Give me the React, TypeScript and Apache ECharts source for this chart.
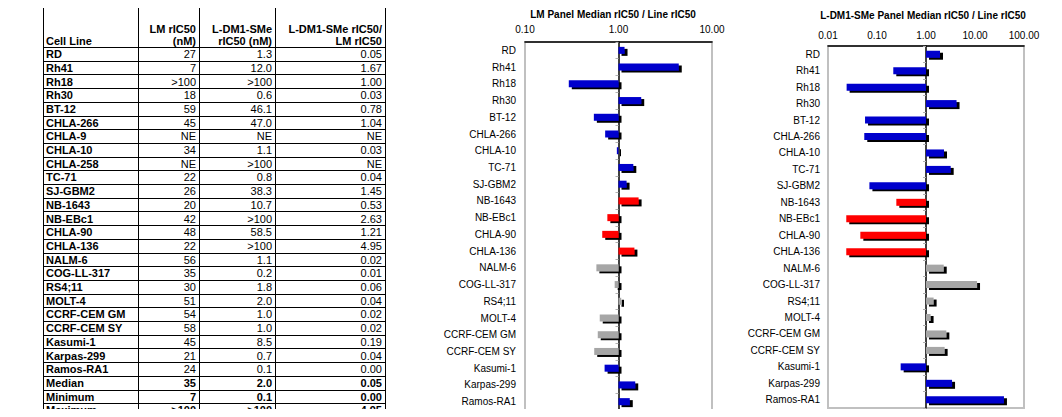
import React, { useEffect, useRef } from "react";
import * as echarts from "echarts";

// ---------- table data ----------
const tableLines = [
  "RD", "Rh41", "Rh18", "Rh30", "BT-12", "CHLA-266", "CHLA-9", "CHLA-10", "CHLA-258",
  "TC-71", "SJ-GBM2", "NB-1643", "NB-EBc1", "CHLA-90", "CHLA-136", "NALM-6", "COG-LL-317",
  "RS4;11", "MOLT-4", "CCRF-CEM GM", "CCRF-CEM SY", "Kasumi-1", "Karpas-299", "Ramos-RA1",
];
const tableLM = [
  "27", "7", ">100", "18", "59", "45", "NE", "34", "NE", "22", "26", "20", "42", "48", "22",
  "56", "35", "30", "51", "54", "58", "45", "21", "24",
];
const tableLDM1 = [
  "1.3", "12.0", ">100", "0.6", "46.1", "47.0", "NE", "1.1", ">100", "0.8", "38.3", "10.7",
  ">100", "58.5", ">100", "1.1", "0.2", "1.8", "2.0", "1.0", "1.0", "8.5", "0.7", "0.1",
];
const tableRatio = [
  "0.05", "1.67", "1.00", "0.03", "0.78", "1.04", "NE", "0.03", "NE", "0.04", "1.45", "0.53",
  "2.63", "1.21", "4.95", "0.02", "0.01", "0.06", "0.04", "0.02", "0.02", "0.19", "0.04", "0.00",
];
const summaryLabels = ["Median", "Minimum", "Maximum"];
const summaryLM = ["35", "7", ">100"];
const summaryLDM1 = ["2.0", "0.1", ">100"];
const summaryRatio = ["0.05", "0.00", "4.95"];

// ---------- chart data ----------
const chartLines = [
  "RD", "Rh41", "Rh18", "Rh30", "BT-12", "CHLA-266", "CHLA-10", "TC-71", "SJ-GBM2",
  "NB-1643", "NB-EBc1", "CHLA-90", "CHLA-136", "NALM-6", "COG-LL-317", "RS4;11", "MOLT-4",
  "CCRF-CEM GM", "CCRF-CEM SY", "Kasumi-1", "Karpas-299", "Ramos-RA1",
];
const chartGroups = [
  "solid", "solid", "solid", "solid", "solid", "solid", "solid", "solid", "solid",
  "nb", "nb", "nb", "nb", "all", "all", "all", "all", "all", "all", "solid", "solid", "solid",
];
const lmRatio = [
  1.16, 4.41, 0.294, 1.75, 0.545, 0.72, 0.96, 1.44, 1.22, 1.64, 0.76, 0.67, 1.48, 0.58, 0.91,
  1.07, 0.63, 0.6, 0.55, 0.71, 1.51, 1.32,
];
const ldm1Ratio = [
  1.93, 0.215, 0.024, 4.2, 0.057, 0.055, 2.33, 3.19, 0.07, 0.248, 0.0236, 0.0457, 0.0236, 2.3,
  11.0, 1.43, 1.24, 2.6, 2.4, 0.304, 3.4, 39,
];

const FONT = "'Liberation Sans', Arial, sans-serif";
const groupColor: Record<string, string> = {
  solid: "#0000CC",
  nb: "#FF0000",
  all: "#A6A6A6",
};

function buildTable(): any[] {
  const els: any[] = [];
  const colX = [43, 138, 199, 275, 385];
  const headerBottom = 47;
  const rowH = 13.7;
  const totalRows = tableLines.length + summaryLabels.length;
  colX.forEach((x) => {
    els.push({
      type: "line",
      shape: { x1: x + 0.5, y1: 4, x2: x + 0.5, y2: 420 },
      style: { stroke: "#000", lineWidth: 1 },
      silent: true,
    });
  });
  for (let i = 0; i <= totalRows; i++) {
    const y = Math.round(headerBottom + i * rowH) + 0.5;
    els.push({
      type: "line",
      shape: { x1: 43, y1: y, x2: 386, y2: y },
      style: { stroke: "#000", lineWidth: 1 },
      silent: true,
    });
  }
  const txt = (s: string, x: number, y: number, align: string, bold: boolean, size: number) => ({
    type: "text",
    x,
    y,
    silent: true,
    style: {
      text: s,
      fill: "#000",
      font: `${bold ? "bold " : ""}${size}px ${FONT}`,
      textAlign: align,
      textVerticalAlign: "middle",
    },
  });
  const HS = 11;
  const BS = 11;
  // header
  els.push(txt("Cell Line", 46, 40.5, "left", true, HS));
  els.push(txt("LM rIC50", 196, 29, "right", true, HS));
  els.push(txt("(nM)", 196, 40.5, "right", true, HS));
  els.push(txt("L-DM1-SMe", 272, 29, "right", true, HS));
  els.push(txt("rIC50 (nM)", 272, 40.5, "right", true, HS));
  els.push(txt("L-DM1-SMe rIC50/", 382, 29, "right", true, HS));
  els.push(txt("LM rIC50", 382, 40.5, "right", true, HS));
  const rows: [string, string, string, string, boolean][] = [];
  tableLines.forEach((l, i) => rows.push([l, tableLM[i], tableLDM1[i], tableRatio[i], false]));
  summaryLabels.forEach((l, i) =>
    rows.push([l, summaryLM[i], summaryLDM1[i], summaryRatio[i], true])
  );
  rows.forEach((r, i) => {
    const y = headerBottom + i * rowH + rowH / 2 + 0.3;
    els.push(txt(r[0], 46, y, "left", true, BS));
    els.push(txt(r[1], 196, y, "right", r[4], BS));
    els.push(txt(r[2], 272, y, "right", r[4], BS));
    els.push(txt(r[3], 382, y, "right", r[4], BS));
  });
  return els;
}

function barData(vals: number[]) {
  return vals.map((v, i) => ({
    value: Math.log10(v),
    itemStyle: { color: groupColor[chartGroups[i]] },
  }));
}

export default function App() {
  const ref = useRef<HTMLDivElement>(null);
  useEffect(() => {
    if (!ref.current) return;
    const chart = echarts.init(ref.current, null, { renderer: "svg" });
    const grids = [
      { left: 525, right: 350, top: 42, bottom: 7 },
      { left: 828, right: 38, top: 46, bottom: 9 },
    ];
    const xRanges = [
      [-1, 1],
      [-2, 2],
    ];
    const labelMargins = [8, 6];
    const catMargins = [9, 8];
    const xAxis: any[] = [];
    const yAxis: any[] = [];
    grids.forEach((g, k) => {
      xAxis.push({
        type: "value",
        gridIndex: k,
        position: "top",
        min: xRanges[k][0],
        max: xRanges[k][1],
        interval: 1,
        axisLine: { show: true, onZero: false, lineStyle: { color: "#000", width: 1.5 } },
        axisTick: { show: false },
        splitLine: { show: false },
        axisLabel: {
          margin: labelMargins[k],
          color: "#000",
          fontFamily: FONT,
          fontSize: 10,
          formatter: (v: number) => Math.pow(10, v).toFixed(2),
        },
      });
      yAxis.push({
        type: "category",
        gridIndex: k,
        data: chartLines,
        inverse: true,
        axisLine: { show: false, onZero: false },
        axisTick: { show: false },
        axisLabel: {
          margin: catMargins[k],
          color: "#000",
          fontFamily: FONT,
          fontSize: 10,
        },
      });
      yAxis.push({
        type: "category",
        gridIndex: k,
        data: chartLines,
        inverse: true,
        position: "left",
        axisLine: { show: true, onZero: true, lineStyle: { color: "#000", width: 1.5 } },
        axisTick: { show: true, length: 3, lineStyle: { color: "#b0b0b0" } },
        axisLabel: { show: false },
      });
    });
    const shadow = {
      shadowColor: "#000",
      shadowOffsetX: 3,
      shadowOffsetY: 2,
      shadowBlur: 0,
    };
    chart.setOption({
      animation: false,
      title: [
        {
          text: "LM Panel Median rIC50 / Line rIC50",
          left: 608,
          top: 4,
          textAlign: "center",
          textStyle: { fontFamily: FONT, fontSize: 10, fontWeight: "bold", color: "#000" },
        },
        {
          text: "L-DM1-SMe Panel Median rIC50 / Line rIC50",
          left: 918,
          top: 5,
          textAlign: "center",
          textStyle: { fontFamily: FONT, fontSize: 10, fontWeight: "bold", color: "#000" },
        },
      ],
      grid: grids.map((g) => ({
        ...g,
        show: true,
        borderColor: "#c0c0c0",
        borderWidth: 2,
        backgroundColor: "#fff",
      })),
      xAxis,
      yAxis,
      graphic: buildTable(),
      series: [
        {
          type: "bar",
          xAxisIndex: 0,
          yAxisIndex: 0,
          barWidth: 7,
          data: barData(lmRatio),
          itemStyle: shadow,
        },
        {
          type: "bar",
          xAxisIndex: 1,
          yAxisIndex: 2,
          barWidth: 7,
          data: barData(ldm1Ratio),
          itemStyle: shadow,
        },
      ],
    });
    return () => chart.dispose();
  }, []);
  return <div ref={ref} style={{ width: 1062, height: 417, margin: -8 }} />;
}
